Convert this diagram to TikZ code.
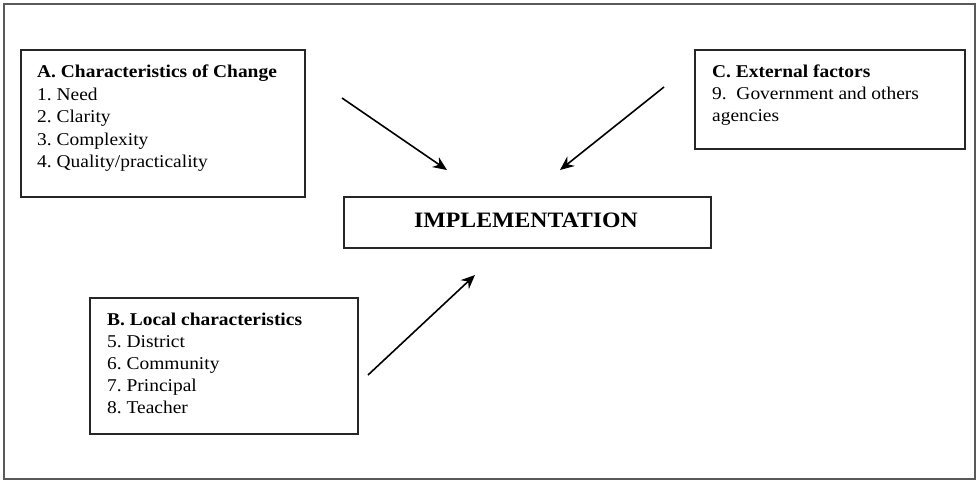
\documentclass[tikz,border=0pt]{standalone}
\usepackage{fontspec}
\setmainfont{Liberation Serif}[FakeStretch=1.08]
\usetikzlibrary{arrows.meta}
\frenchspacing
\begin{document}
\begin{tikzpicture}[x=1pt,y=-1pt,
  frame/.style={draw=black!85,line width=1.5pt,inner sep=0pt,anchor=north west},
  boxtext/.style={anchor=north west,inner sep=0pt,align=left,
    font=\fontsize{18}{22.5}\selectfont},
  flow/.style={line width=1.6pt,-{Stealth[length=14pt,width=12pt]}}]
\useasboundingbox (0,0) rectangle (976,480);
\draw[black!65,line width=1.2pt] (4,4) rectangle (975,479);
% box A
\node[frame,minimum width=284pt,minimum height=147pt] (A) at (20,49) {};
\node[boxtext] (At) at (37,65) {\textbf{A. Characteristics of Change}\\1. Need\\2. Clarity\\3. Complexity\\4. Quality/practicality};
% box C
\node[frame,minimum width=270pt,minimum height=99pt] (C) at (694,49) {};
\node[boxtext,font=\fontsize{18}{22}\selectfont] (Ct) at (712,65) {\textbf{C. External factors}\\9.\ \ Government and others\\agencies};
% box B
\node[frame,minimum width=268pt,minimum height=136pt] (B) at (89,297) {};
\node[boxtext,font=\fontsize{18}{22}\selectfont] (Bt) at (107,313) {\textbf{B. Local characteristics}\\5. District\\6. Community\\7. Principal\\8. Teacher};
% implementation
\node[frame,minimum width=367pt,minimum height=51pt] (I) at (343,196) {};
\node[font=\fontsize{22}{26}\selectfont\bfseries,inner sep=0pt] (It) at (526,220) {IMPLEMENTATION};
% arrows
\coordinate (a1) at (342,98);
\coordinate (a2) at (447,170);
\coordinate (c1) at (664,87);
\coordinate (c2) at (560,170);
\coordinate (b1) at (368,375);
\coordinate (b2) at (475,275);
\draw[flow] (a1) -- (a2);
\draw[flow] (c1) -- (c2);
\draw[flow] (b1) -- (b2);
\end{tikzpicture}
\end{document}
